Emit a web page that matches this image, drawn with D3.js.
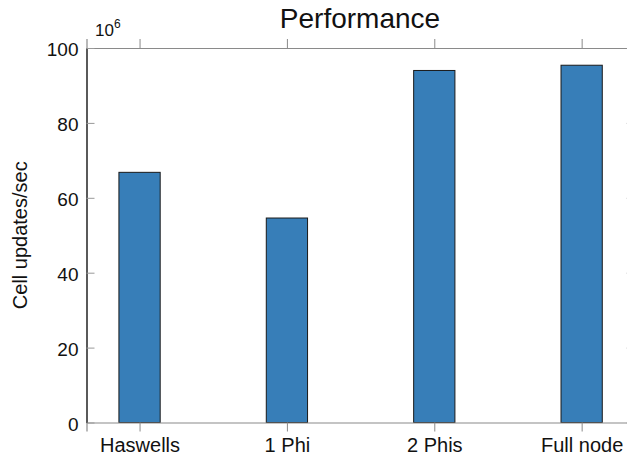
<!DOCTYPE html>
<html>
<head>
<meta charset="utf-8">
<script src="https://cdn.jsdelivr.net/npm/d3@7"></script>
<style>
  body { margin: 0; background: #fff; }
  svg { font-family: "Liberation Sans", Arial, sans-serif; }
</style>
</head>
<body>
<svg width="627" height="456"></svg>
<script>
// data
var categories = ["Haswells", "1 Phi", "2 Phis", "Full node"];
var values = [66.8, 54.6, 94.0, 95.4];
var yTicks = [0, 20, 40, 60, 80, 100];

var svg = d3.select("svg");
var margins = { top: 48, left: 86.5, bottom: 33.5 };
var plotRight = 634.7;
var chartHeight = 456 - margins.top - margins.bottom;

// category positions 1..4, axis from 0.64 to 4.36
var xScale = d3.scaleLinear().domain([0.64, 4.36]).range([margins.left, plotRight]);
var yScale = d3.scaleLinear().domain([0, 100]).range([margins.top + chartHeight, margins.top]);
var barW = 0.28;

// bars
svg.append("g").selectAll("rect").data(values).enter().append("rect")
  .attr("x", function (d, i) { return xScale(i + 1 - barW / 2); })
  .attr("y", function (d) { return yScale(d); })
  .attr("width", function () { return xScale(1 + barW / 2) - xScale(1 - barW / 2); })
  .attr("height", function (d) { return yScale(0) - yScale(d); })
  .style("fill", "#377eb8")
  .style("stroke", "#1a1a1a")
  .style("stroke-width", 1);

// top and bottom axis lines (grey), ticks pointing outward
var bottomAxis = svg.append("g")
  .attr("transform", `translate(0, ${yScale(0)})`)
  .call(d3.axisBottom(xScale).tickValues([1, 2, 3, 4]).tickSize(9)
    .tickFormat(function (d) { return categories[d - 1]; }));
bottomAxis.select(".domain").attr("stroke", "#8a8a8a").attr("stroke-width", 1.2);
bottomAxis.selectAll(".tick line").attr("stroke", "#8a8a8a");
bottomAxis.selectAll("text").attr("y", 29).attr("dy", 0)
  .style("font-size", "20px").attr("fill", "#111");

var topAxis = svg.append("g")
  .attr("transform", `translate(0, ${yScale(100)})`)
  .call(d3.axisTop(xScale).tickValues([1, 2, 3, 4]).tickSize(9).tickFormat(""));
topAxis.select(".domain").attr("stroke", "#8a8a8a").attr("stroke-width", 1.2);
topAxis.selectAll(".tick line").attr("stroke", "#8a8a8a");

// left axis: black line, ticks inward
var leftAxis = svg.append("g")
  .attr("transform", `translate(${margins.left}, 0)`)
  .call(d3.axisLeft(yScale).tickValues(yTicks).tickSizeInner(-8).tickSizeOuter(0));
leftAxis.select(".domain").attr("stroke", "#000").attr("stroke-width", 1.3);
leftAxis.selectAll(".tick line").attr("stroke", "#999");
leftAxis.selectAll("text").attr("x", -8).attr("dy", "0.42em")
  .style("font-size", "19px").attr("fill", "#111");

// right axis ticks (inward), line beyond view
var rightAxis = svg.append("g")
  .attr("transform", `translate(${plotRight}, 0)`)
  .call(d3.axisRight(yScale).tickValues(yTicks).tickSizeInner(-8).tickSizeOuter(0).tickFormat(""));
rightAxis.select(".domain").attr("stroke", "#000");
rightAxis.selectAll(".tick line").attr("stroke", "#999");

// exponent label
var expLabel = svg.append("text").attr("x", 95).attr("y", 36)
  .style("font-size", "17px").attr("fill", "#111");
expLabel.append("tspan").text("10");
expLabel.append("tspan").attr("dy", -8).style("font-size", "12px").text("6");

// title
svg.append("text").attr("x", 360).attr("y", 28).attr("text-anchor", "middle")
  .style("font-size", "28px").attr("fill", "#111").text("Performance");

// y label
svg.append("text")
  .attr("transform", `translate(27, ${yScale(50)}) rotate(-90)`)
  .attr("text-anchor", "middle")
  .style("font-size", "20px").attr("fill", "#111")
  .text("Cell updates/sec");
</script>
</body>
</html>
